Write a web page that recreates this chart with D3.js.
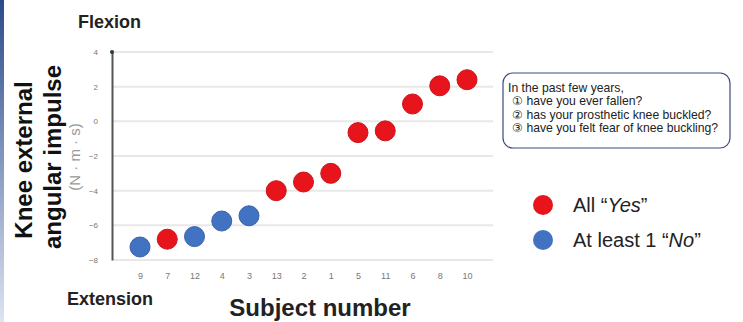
<!DOCTYPE html>
<html>
<head>
<meta charset="utf-8">
<script src="https://cdn.jsdelivr.net/npm/d3@7"></script>
<style>
  body { margin: 0; background: #fff; }
  svg { display: block; font-family: "Liberation Sans", Arial, sans-serif; }
</style>
</head>
<body>
<div id="chart"></div>
<script>
let width = 743,
    height = 322;

// subjects in plotted order, value and group
const subjects = ["9", "7", "12", "4", "3", "13", "2", "1", "5", "11", "6", "8", "10"];
const impulse = [-7.25, -6.8, -6.65, -5.75, -5.45, -4.0, -3.5, -3.0, -0.65, -0.55, 1.0, 2.05, 2.4];
const allYes = [false, true, false, false, false, true, true, true, true, true, true, true, true];
const yTicks = [4, 2, 0, -2, -4, -6, -8];
const questions = ["In the past few years,", "\u2460 have you ever fallen?", "\u2461 has your prosthetic knee buckled?", "\u2462 have you felt fear of knee buckling?"];

const red = "#e8141c", blue = "#4272c2";

const svg = d3.select("#chart")
  .append("svg")
  .attr("width", width)
  .attr("height", height);

// slide edge strip
let grad = svg.append("defs").append("linearGradient")
  .attr("id", "edge").attr("x1", 0).attr("y1", 0).attr("x2", 0).attr("y2", 1);
grad.append("stop").attr("offset", 0).attr("stop-color", "#2c4b8b");
grad.append("stop").attr("offset", 1).attr("stop-color", "#dce4f2");
svg.append("rect").attr("x", 0).attr("y", 0).attr("width", 4).attr("height", height)
  .attr("fill", "url(#edge)");

let x = d3.scalePoint()
  .domain(subjects)
  .range([140, 467]);

let y = d3.scaleLinear()
  .domain([-8, 4])
  .range([260, 52]);

// gridlines
svg.append("g")
  .selectAll("line")
  .data(yTicks)
  .join("line")
  .attr("x1", 113)
  .attr("x2", 493)
  .attr("y1", d => y(d))
  .attr("y2", d => y(d))
  .attr("stroke", "#e8e8e8")
  .attr("stroke-width", 2);

// y axis
let yAxis = svg.append("g")
  .attr("transform", "translate(112,0)")
  .call(d3.axisLeft(y).tickValues(yTicks).tickSize(0).tickPadding(14));
yAxis.select(".domain").attr("stroke", "#555").attr("stroke-width", 2);
yAxis.selectAll("text").attr("fill", "#777").attr("font-size", 8);
svg.append("circle").attr("cx", 112).attr("cy", y(4)).attr("r", 2).attr("fill", "#333");

// x axis labels
let xAxis = svg.append("g")
  .attr("transform", "translate(0,270)")
  .call(d3.axisBottom(x).tickSize(0).tickPadding(3));
xAxis.select(".domain").remove();
xAxis.selectAll("text").attr("fill", "#777").attr("font-size", 9);

// points
svg.append("g")
  .selectAll("circle")
  .data(subjects)
  .join("circle")
  .attr("cx", d => x(d))
  .attr("cy", (d, i) => y(impulse[i]))
  .attr("r", 10)
  .attr("fill", (d, i) => allYes[i] ? red : blue)
  .attr("stroke", (d, i) => allYes[i] ? "#c9141c" : "#3a62a8")
  .attr("stroke-width", 1);

// labels
svg.append("text").attr("x", 78).attr("y", 28)
  .attr("font-size", 18).attr("font-weight", "bold").attr("fill", "#222")
  .text("Flexion");
svg.append("text").attr("x", 67).attr("y", 305)
  .attr("font-size", 18).attr("font-weight", "bold").attr("fill", "#222")
  .text("Extension");
svg.append("text").attr("x", 320).attr("y", 316)
  .attr("text-anchor", "middle")
  .attr("font-size", 24).attr("font-weight", "bold").attr("fill", "#222")
  .text("Subject number");

let yl = svg.append("g");
yl.append("text")
  .attr("transform", "translate(32,160) rotate(-90)")
  .attr("text-anchor", "middle")
  .attr("font-size", 24).attr("font-weight", "bold").attr("fill", "#111")
  .text("Knee external");
yl.append("text")
  .attr("transform", "translate(61,157) rotate(-90)")
  .attr("text-anchor", "middle")
  .attr("font-size", 24).attr("font-weight", "bold").attr("fill", "#111")
  .text("angular impulse");
yl.append("text")
  .attr("transform", "translate(80,157) rotate(-90)")
  .attr("text-anchor", "middle")
  .attr("font-size", 15).attr("fill", "#999")
  .text("(N \u00b7 m \u00b7 s)");

// question box
svg.append("rect")
  .attr("x", 503).attr("y", 73).attr("width", 227).attr("height", 75)
  .attr("rx", 10)
  .attr("fill", "#fff")
  .attr("stroke", "#3c4a7c")
  .attr("stroke-width", 1.2);
svg.append("g")
  .selectAll("text")
  .data(questions)
  .join("text")
  .attr("x", (d, i) => i === 0 ? 508 : 512)
  .attr("y", (d, i) => 92 + i * 13.3)
  .attr("font-size", 12.2)
  .attr("fill", "#222")
  .text(d => d);

// legend
let legend = svg.append("g");
legend.append("circle").attr("cx", 543).attr("cy", 205).attr("r", 10).attr("fill", red);
legend.append("circle").attr("cx", 543).attr("cy", 240).attr("r", 10).attr("fill", blue);
let t1 = legend.append("text").attr("x", 573).attr("y", 212).attr("font-size", 20).attr("fill", "#222");
t1.append("tspan").text("All \u201c");
t1.append("tspan").attr("font-style", "italic").text("Yes");
t1.append("tspan").text("\u201d");
let t2 = legend.append("text").attr("x", 573).attr("y", 247).attr("font-size", 20).attr("fill", "#222");
t2.append("tspan").text("At least 1 \u201c");
t2.append("tspan").attr("font-style", "italic").text("No");
t2.append("tspan").text("\u201d");
</script>
</body>
</html>
